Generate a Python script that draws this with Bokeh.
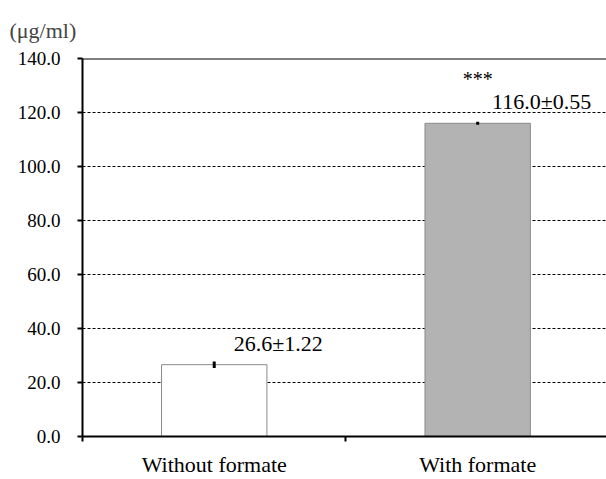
from bokeh.plotting import figure
from bokeh.models import (Range1d, FixedTicker, LinearAxis, PrintfTickFormatter, Span, Grid)
from bokeh.embed import file_html
from bokeh.resources import INLINE
from bokeh.core.properties import value

categories = ["Without formate", "With formate"]
means = [26.6, 116.0]
sds = [1.22, 0.55]
significance = ["", "***"]
fill_colors = ["#ffffff", "#b3b3b3"]
y_ticks = [0, 20, 40, 60, 80, 100, 120, 140]
unit_label = "(μg/ml)"

FONT = "Liberation Serif"

xs = [i + 0.5 for i in range(len(categories))]
tops = [m + s for m, s in zip(means, sds)]
bottoms = [m - s for m, s in zip(means, sds)]
ann_text = [f"{m:.1f}±{s:.2f}" for m, s in zip(means, sds)]
ann_x = [x + 0.243 for x in xs]
ann_y = [m + 7.9 for m in means]
sig_y = [m + 16.3 for m in means]

p = figure(width=606, height=479, output_backend="svg", toolbar_location=None,
           x_range=Range1d(0, 1.989), y_range=Range1d(0, 140),
           min_border_left=82, min_border_right=0, min_border_top=58, min_border_bottom=41,
           x_axis_type=None, y_axis_type=None)
p.outline_line_color = None
p.background_fill_color = "white"

# title (unit)
p.title.text = unit_label
p.title.align = "left"
p.title.offset = -73
p.title.text_font = FONT
p.title.text_font_size = "22px"
p.title.text_font_style = "normal"
p.title.standoff = 31

# y axis
yax = LinearAxis(ticker=FixedTicker(ticks=y_ticks, minor_ticks=[]),
                 formatter=PrintfTickFormatter(format="%.1f"))
yax.axis_line_width = 2
yax.axis_line_color = "black"
yax.major_tick_in = 0
yax.major_tick_out = 5
yax.major_tick_line_width = 2
yax.minor_tick_line_color = None
yax.major_label_text_font = FONT
yax.major_label_text_font_size = "19px"
yax.major_label_text_color = "black"
yax.major_label_standoff = 17
p.add_layout(yax, "left")

# x axis
xax = LinearAxis(ticker=FixedTicker(ticks=xs, minor_ticks=[0, 1, 2]))
xax.major_label_overrides = {x: c for x, c in zip(xs, categories)}
xax.axis_line_width = 2
xax.axis_line_color = "black"
xax.major_tick_line_color = None
xax.major_tick_in = 0
xax.major_tick_out = 0
xax.minor_tick_in = 0
xax.minor_tick_out = 5
xax.minor_tick_line_width = 2
xax.minor_tick_line_color = "black"
xax.major_label_text_font = FONT
xax.major_label_text_font_size = "22px"
xax.major_label_text_color = "black"
xax.major_label_standoff = 10
p.add_layout(xax, "below")

# grid
grid = Grid(dimension=1, ticker=FixedTicker(ticks=y_ticks[1:-1]))
grid.grid_line_color = "black"
grid.grid_line_dash = "3 2"
grid.grid_line_width = 1
p.add_layout(grid)

top_line = Span(location=140, dimension="width", line_color="black", line_width=2)
p.add_layout(top_line)

p.vbar(x=xs, top=means, width=0.4, fill_color=fill_colors,
       line_color="#8a8a8a", line_width=1)
p.segment(x0=xs, y0=bottoms, x1=xs, y1=tops, line_color="black", line_width=3)

p.text(x=ann_x, y=ann_y, text=ann_text, text_font=value(FONT), text_font_size="22px",
       text_align="center", text_baseline="alphabetic", text_color="black")
p.text(x=xs, y=sig_y, text=significance, text_font=value(FONT), text_font_size="20px",
       text_align="center", text_baseline="middle", text_color="black")

open("out.html", "w").write(file_html(p, INLINE))
